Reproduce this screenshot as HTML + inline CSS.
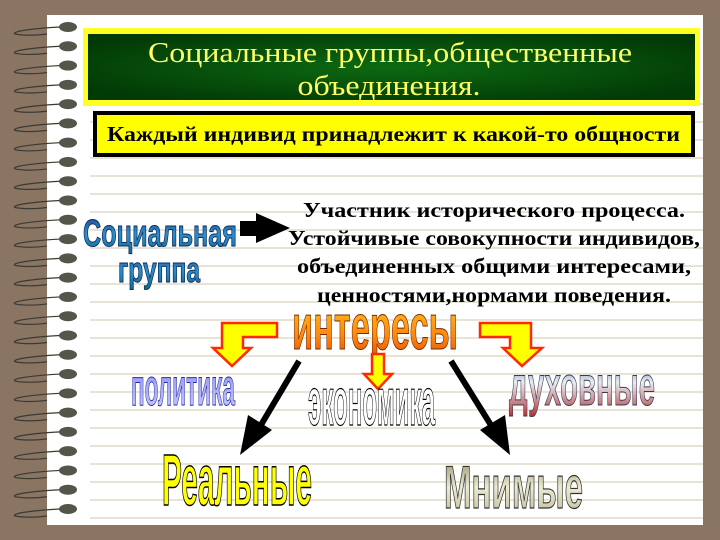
<!DOCTYPE html>
<html><head><meta charset="utf-8"><style>html,body{margin:0;padding:0;background:#8a7563;}svg{display:block}</style></head>
<body>
<svg width="720" height="540" viewBox="0 0 720 540" xmlns="http://www.w3.org/2000/svg">
<defs>
<radialGradient id="gr" cx="0.5" cy="0.5" r="0.6"><stop offset="0" stop-color="#0d6a12"/><stop offset="1" stop-color="#023a06"/></radialGradient>
<linearGradient id="blue" x1="0" y1="0" x2="0" y2="1"><stop offset="0" stop-color="#1a3f8a"/><stop offset="0.5" stop-color="#2d8fcf"/><stop offset="1" stop-color="#16658f"/></linearGradient>
<linearGradient id="or" x1="0" y1="0" x2="0" y2="1"><stop offset="0" stop-color="#ffd21a"/><stop offset="0.6" stop-color="#ff8a10"/><stop offset="1" stop-color="#e04a00"/></linearGradient>
<linearGradient id="rwb" x1="0" y1="0" x2="0" y2="1"><stop offset="0" stop-color="#3a5a90"/><stop offset="0.45" stop-color="#e8eef5"/><stop offset="1" stop-color="#b03030"/></linearGradient>
<linearGradient id="bg" x1="0" y1="0" x2="0" y2="1"><stop offset="0" stop-color="#8a8760"/><stop offset="0.5" stop-color="#ecead0"/><stop offset="1" stop-color="#b8b690"/></linearGradient>
<linearGradient id="pol" x1="0" y1="0" x2="0" y2="1"><stop offset="0" stop-color="#8a8ef0"/><stop offset="1" stop-color="#c8ccff"/></linearGradient>
</defs>
<rect x="0" y="0" width="720" height="540" fill="#8a7563"/>
<rect x="47" y="15" width="656" height="510" fill="#fff"/>
<g stroke="#d9d2bf" stroke-width="1.3" id="lines"></g>
<g id="spiral"></g>
<rect x="83" y="28" width="617" height="78" fill="#ffff22"/>
<rect x="88" y="34" width="607" height="66" fill="url(#gr)"/>
<g font-family="'Liberation Serif',serif" font-size="29" fill="#ffff66" text-anchor="middle">
<text x="390" y="62" textLength="484" lengthAdjust="spacingAndGlyphs">Социальные группы,общественные</text>
<text x="389" y="95" textLength="183" lengthAdjust="spacingAndGlyphs">объединения.</text>
</g>
<rect x="95" y="113" width="598" height="42" fill="#ffff00" stroke="#000" stroke-width="4"/>
<text x="107" y="141" font-family="'Liberation Serif',serif" font-weight="bold" font-size="21" textLength="573" lengthAdjust="spacingAndGlyphs">Каждый индивид принадлежит к какой-то общности</text>
<g font-family="'Liberation Sans',sans-serif" font-weight="bold" fill="url(#blue)" stroke="#0b2c5a" stroke-width="1">
<text x="83" y="246" font-size="38" textLength="154" lengthAdjust="spacingAndGlyphs">Социальная</text>
<text x="118" y="282" font-size="36" textLength="82" lengthAdjust="spacingAndGlyphs">группа</text>
</g>
<polygon points="240,221 256,221 256,213 290,228 256,243 256,236 240,236" fill="#000"/>
<g font-family="'Liberation Serif',serif" font-weight="bold" font-size="21" text-anchor="middle" fill="#000">
<text x="494" y="217" textLength="382" lengthAdjust="spacingAndGlyphs">Участник исторического процесса.</text>
<text x="494" y="245" textLength="412" lengthAdjust="spacingAndGlyphs">Устойчивые совокупности индивидов,</text>
<text x="494" y="273" textLength="394" lengthAdjust="spacingAndGlyphs">объединенных общими интересами,</text>
<text x="494" y="302" textLength="354" lengthAdjust="spacingAndGlyphs">ценностями,нормами поведения.</text>
</g>
<text x="292" y="349" font-family="'Liberation Sans',sans-serif" font-weight="bold" font-size="64" fill="url(#or)" stroke="#7a2a00" stroke-width="1" textLength="166" lengthAdjust="spacingAndGlyphs">интересы</text>
<g fill="#ffff00" stroke="#ff2a00" stroke-width="2.5" stroke-linejoin="miter">
<polygon points="277,323 277,337 243,337 243,348 251,348 232,366 213,348 222,348 222,323"/>
<polygon points="480,323 480,337 510,337 510,348 503,348 522,366 542,348 531,348 531,323"/>
<polygon points="372,354 384,354 384,374 392,374 378,389 364,374 372,374"/>
</g>
<g stroke="#000" stroke-width="6">
<line x1="299" y1="361" x2="258" y2="430"/>
<line x1="451" y1="361" x2="494" y2="430"/>
</g>
<polygon points="240,455 248,415 272,430" fill="#000"/>
<polygon points="510,455 480,430 505,415" fill="#000"/>
<g font-family="'Liberation Sans',sans-serif" font-weight="bold">
<text x="131" y="405" font-size="52" fill="url(#pol)" stroke="#2a2aa0" stroke-width="1" textLength="104" lengthAdjust="spacingAndGlyphs">политика</text>
<text x="308" y="425" font-size="68" fill="#fff" stroke="#000" stroke-width="1.2" textLength="127" lengthAdjust="spacingAndGlyphs">экономика</text>
<text x="509" y="405" font-size="56" fill="url(#rwb)" stroke="#3a3a50" stroke-width="1" textLength="146" lengthAdjust="spacingAndGlyphs">духовные</text>
<text x="162" y="505" font-size="72" fill="#ffff00" stroke="#000" stroke-width="1.5" textLength="150" lengthAdjust="spacingAndGlyphs">Реальные</text>
<text x="444" y="508" font-size="60" fill="url(#bg)" stroke="#333" stroke-width="1.2" textLength="139" lengthAdjust="spacingAndGlyphs">Мнимые</text>
</g>
<script>
var ns="http://www.w3.org/2000/svg",L=document.getElementById('lines'),S=document.getElementById('spiral');
for(var y=104;y<=520;y+=18){var l=document.createElementNS(ns,'line');l.setAttribute('x1',90);l.setAttribute('x2',703);l.setAttribute('y1',y);l.setAttribute('y2',y);L.appendChild(l);}
for(var k=0;k<26;k++){var y=27+k*19.28;
var p=document.createElementNS(ns,'path');p.setAttribute('d','M60 '+y+' C40 '+(y+1)+' 10 '+(y+4)+' 15 '+(y+7)+' C25 '+(y+9)+' 40 '+(y+8)+' 47 '+(y+7));p.setAttribute('fill','none');p.setAttribute('stroke','#3a3a35');p.setAttribute('stroke-width','1.2');S.appendChild(p);
var e=document.createElementNS(ns,'ellipse');e.setAttribute('cx',68);e.setAttribute('cy',y);e.setAttribute('rx',9);e.setAttribute('ry',5);e.setAttribute('fill','#55554a');S.appendChild(e);}
</script>
</svg>
</body></html>
